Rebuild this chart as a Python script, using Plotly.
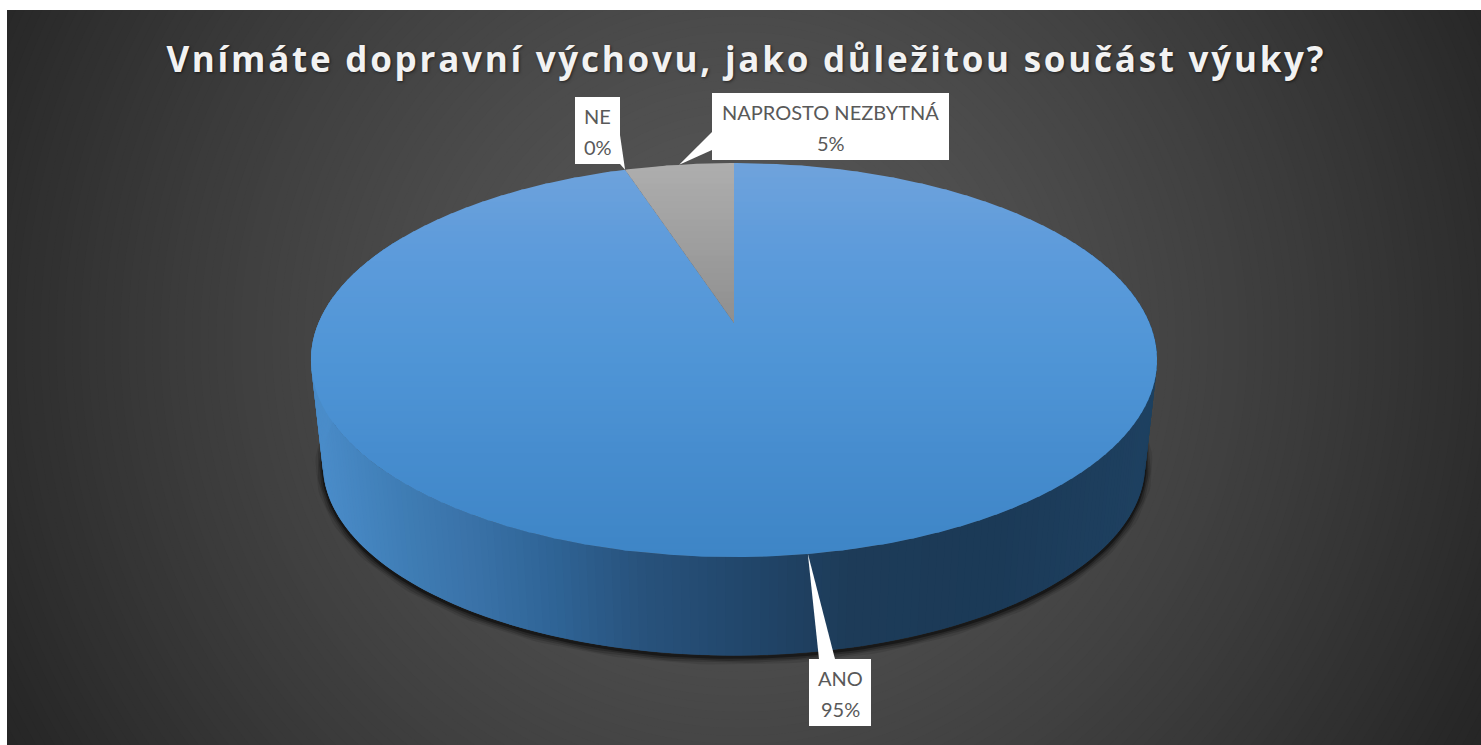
import numpy as np
import plotly.graph_objects as go

# ---- data ----
categories = ["ANO", "NE", "NAPROSTO NEZBYTNÁ"]
values = [95, 0, 5]
title_text = "Vnímáte dopravní výchovu, jako důležitou součást výuky?"

# ---- style / layout ----
W, H = 1481, 745
FRAME_X0, FRAME_Y0 = 7, 10
CX, APEX_Y = 734, 323
A, B, K = 415.5, 190.0, 0.188     # perspective of the pie disc
BOTTOM_SCALE, BOTTOM_APEX_Y = 0.972, 428
slice_grad = {
    "ANO": [(163, "#6fa3dc"), (250, "#5d9bdb"), (360, "#4f95d6"), (450, "#478dcf"), (557, "#3e85c6")],
    "NE": [(163, "#6fa3dc"), (557, "#3e85c6")],
    "NAPROSTO NEZBYTNÁ": [(163, "#aeaeae"), (323, "#8f8f8f")],
}
wall_stops = [(315, "#4a8cc9"), (400, "#3f7db5"), (470, "#3a72a8"), (550, "#2f6496"), (640, "#28527c"),
              (750, "#21466a"), (850, "#1d3b58"), (1000, "#1b3a57"), (1150, "#1e4060")]
boxes = {  # x0, x1, y0, y1, tail attachment on the box, tip shift
    "ANO": (809, 871, 659, 726, [(819, 659), (835, 659)], -6),
    "NE": (575, 620, 97, 164, [(620, 135), (620, 164)], 0),
    "NAPROSTO NEZBYTNÁ": (712, 949, 93, 160, [(712, 132), (712, 150)], 0),
}


def hex2rgb(c):
    return np.array([int(c[i:i + 2], 16) for i in (1, 3, 5)], dtype=float)


def ramp(stops, p):
    xs = [s[0] for s in stops]
    rgb = np.array([hex2rgb(s[1]) for s in stops])
    return "rgb(%d,%d,%d)" % tuple(round(float(np.interp(p, xs, rgb[:, i]))) for i in range(3))


def rim(a_deg, scale=1.0, apex_y=APEX_Y):
    a = np.radians(a_deg)
    d = 1 + K * np.cos(a)
    return CX + scale * A * np.sin(a) / d, apex_y - scale * B * np.cos(a) / d


def clip_band(px, py, y0, y1):
    def clip(pts, keep, cross_y):
        out = []
        for i in range(len(pts)):
            p, q = pts[i], pts[(i + 1) % len(pts)]
            kp, kq = keep(p[1]), keep(q[1])
            if kp:
                out.append(p)
            if kp != kq:
                t = (cross_y - p[1]) / (q[1] - p[1])
                out.append((p[0] + t * (q[0] - p[0]), cross_y))
        return out
    pts = list(zip(px, py))
    pts = clip(pts, lambda y: y >= y0, y0)
    if pts:
        pts = clip(pts, lambda y: y <= y1, y1)
    return pts


fig = go.Figure()


def poly(xs, ys, color, lw=0.0):
    fig.add_trace(go.Scatter(x=list(xs), y=list(ys), mode="lines", fill="toself", fillcolor=color,
                             line=dict(color=color, width=lw), hoverinfo="skip",
                             showlegend=False))


# shadow under the disc
sa = np.linspace(68, 292, 200)
for w, al in [(15, .10), (11, .16), (7, .24), (3, .40)]:
    sx, sy = rim(sa, BOTTOM_SCALE, BOTTOM_APEX_Y + 2)
    fig.add_trace(go.Scatter(x=sx, y=sy, mode="lines", line=dict(color=f"rgba(0,0,0,{al})", width=w),
                             hoverinfo="skip", showlegend=False))

# side wall: strips painted with overlap so no seams show
edges = np.linspace(62, 298, 237)
for a0, a1 in zip(edges[:-1], edges[1:]):
    arc = np.linspace(a0, a1 + 1.0, 3)
    tx, ty = rim(arc)
    bx, by = rim(arc[::-1], BOTTOM_SCALE, BOTTOM_APEX_Y)
    mid_x = rim((a0 + a1) / 2)[0]
    poly(np.r_[tx, bx], np.r_[ty, by], ramp(wall_stops, mid_x))

# top face: each slice is a sector built from its value, shaded in horizontal bands
total = sum(values)
start = 0.0
mids = {}
for cat, v in zip(categories, values):
    sweep = 360 * v / total
    mids[cat] = start + sweep / 2
    if v > 0:
        arc = np.linspace(start, start + sweep, max(int(sweep * 2), 8))
        rx, ry = rim(arc)
        px = np.r_[CX, rx]
        py = np.r_[APEX_Y, ry]
        for y0 in np.arange(160, 560, 6.0):
            pts = clip_band(px, py, y0 - 0.4, y0 + 6.4)
            if len(pts) >= 3:
                poly([p[0] for p in pts], [p[1] for p in pts], ramp(slice_grad[cat], y0 + 3))
    start += sweep

# callout tails, from each slice's mid angle to its box
for cat in categories:
    tip = rim(mids[cat])
    (ax, ay), (bx, by) = boxes[cat][4]
    poly([tip[0] + boxes[cat][5], ax, bx], [tip[1], ay, by], "#ffffff")

# background: dark frame with a radial glow
shapes = [dict(type="rect", xref="x", yref="y", x0=FRAME_X0, x1=W, y0=FRAME_Y0, y1=H, layer="below",
               line_width=0, fillcolor="#262626")]
for d in np.arange(860, 0, -8):
    g = int(round(0x58 - 48 * (d / 810) ** 1.4))
    g = max(g, 0x26)
    c = f"rgb({g},{g},{g})"
    shapes.append(dict(type="circle", xref="x", yref="y", x0=740 - d, x1=740 + d, y0=340 - d, y1=340 + d,
                       layer="below", line_width=0, fillcolor=c))
# keep the white page margins outside the frame
shapes.append(dict(type="rect", xref="x", yref="y", x0=0, x1=FRAME_X0, y0=0, y1=H, layer="below",
                   line_width=0, fillcolor="#ffffff"))
shapes.append(dict(type="rect", xref="x", yref="y", x0=0, x1=W, y0=0, y1=FRAME_Y0, layer="below",
                   line_width=0, fillcolor="#ffffff"))

annotations = [dict(x=746, y=58, xref="x", yref="y", text=f"<b>{title_text}</b>", showarrow=False,
                    font=dict(family="Open Sans", size=35, color="#f2f2f2",
                              shadow="1px 1px 3px rgba(0,0,0,0.55)"))]
for cat, v in zip(categories, values):
    x0, x1, y0, y1 = boxes[cat][:4]
    shapes.append(dict(type="rect", xref="x", yref="y", x0=x0, x1=x1, y0=y0, y1=y1, layer="above",
                       line_width=0, fillcolor="#ffffff"))
    xc = (x0 + x1) / 2
    for text, yy in ((cat, y0 + 19), (f"{v}%", y0 + 50)):
        annotations.append(dict(x=xc, y=yy, xref="x", yref="y", text=text, showarrow=False,
                                font=dict(family="Lato", size=20, color="#595959")))

fig.update_layout(
    width=W, height=H, margin=dict(l=0, r=0, t=0, b=0), paper_bgcolor="#ffffff", plot_bgcolor="#ffffff",
    xaxis=dict(range=[0, W], visible=False, fixedrange=True),
    yaxis=dict(range=[H, 0], visible=False, fixedrange=True),
    shapes=shapes, annotations=annotations, showlegend=False,
)
post = """document.body.style.margin='0';
var t=document.querySelector('.annotation-text');
if(t){t.style.letterSpacing='2.75px';}"""
fig.write_html("out.html", post_script=post, config={"displayModeBar": False})
